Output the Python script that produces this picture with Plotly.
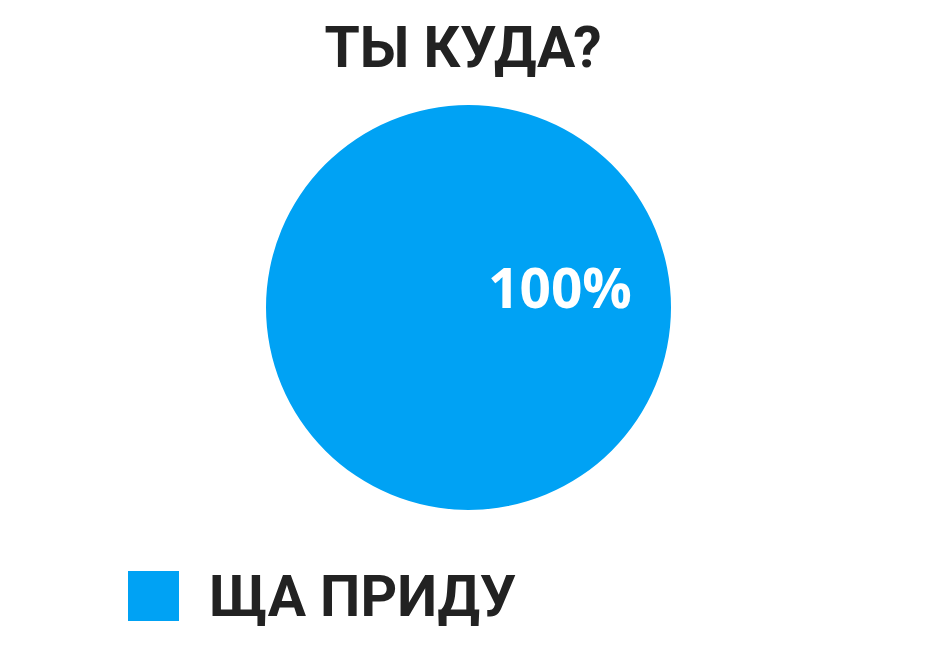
import plotly.graph_objects as go

title = "ТЫ КУДА?"
labels = ["ЩА ПРИДУ"]
values = [100]
colors = ["#00A2F4"]

W, H = 948, 666
OFF = 8  # page body margin shifts the figure by 8px


def px(x):
    return (x - OFF) / W


def py(y):
    return 1 - (y - OFF) / H


fig = go.Figure()

fig.add_trace(
    go.Pie(
        labels=labels,
        values=values,
        marker=dict(colors=colors, line=dict(width=0)),
        textinfo="none",
        sort=False,
        showlegend=False,
        hoverinfo="label+percent",
        domain=dict(x=[px(266), px(671)], y=[py(511), py(104)]),
    )
)

total = sum(values)
pct = f"{round(values[0] / total * 100)}%"

# slice label (offset to the right, like the original)
fig.add_annotation(
    x=px(560), y=py(287), xref="paper", yref="paper",
    text=f"<b>{pct}</b>", showarrow=False,
    font=dict(family="Open Sans", size=55, color="white"),
    xanchor="center", yanchor="middle",
)

# big legend drawn by hand
fig.add_shape(
    type="rect", xref="paper", yref="paper",
    x0=px(128), x1=px(179), y0=py(621), y1=py(571),
    fillcolor=colors[0], line=dict(width=0),
)
fig.add_annotation(
    x=px(207), y=py(596), xref="paper", yref="paper",
    text=f"<b>{labels[0]}</b>", showarrow=False,
    font=dict(family="Roboto", size=57, color="#222222"),
    xanchor="left", yanchor="middle",
)

fig.update_layout(
    title=dict(
        text=f"<b>{title}</b>",
        x=px(463), xanchor="center", y=py(47), yanchor="middle",
        font=dict(family="Roboto", size=57, color="#222222"),
    ),
    width=W,
    height=H,
    margin=dict(l=0, r=0, t=0, b=0),
    paper_bgcolor="white",
    plot_bgcolor="white",
)

fig.write_html("out.html")
